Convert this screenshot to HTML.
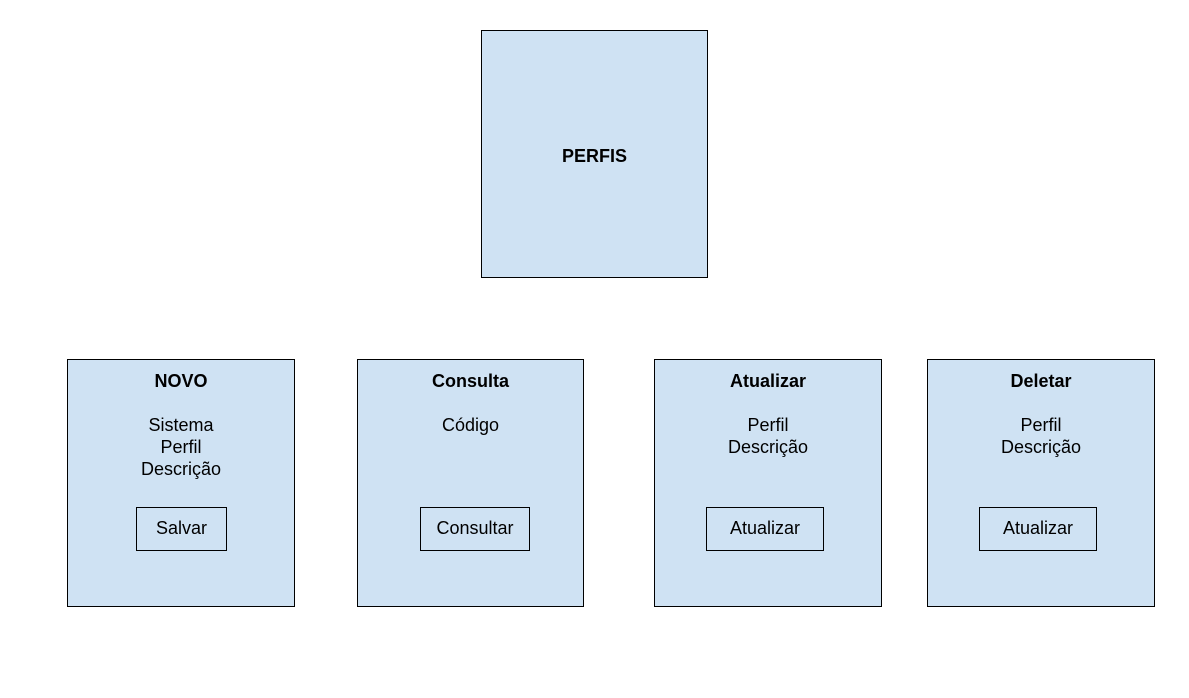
<!DOCTYPE html>
<html><head><meta charset="utf-8"><style>
body{margin:0;width:1189px;height:698px;background:#fff;position:relative;font-family:"Liberation Sans",Arial,sans-serif;color:#000;overflow:hidden}
.b{position:absolute;background:#cfe2f3;border:1px solid #000;box-sizing:border-box}
.t{position:absolute;left:0;right:0;text-align:center;font-size:18px;line-height:22px}
.btn{position:absolute;border:1px solid #000;box-sizing:border-box;text-align:center;font-size:18px;line-height:41px}
</style></head><body>
<div class="b" style="left:481px;top:30px;width:227px;height:248px"><div class="t" style="top:114px;font-weight:bold">PERFIS</div></div>

<div class="b" style="left:67px;top:359px;width:228px;height:248px">
<div class="t" style="top:10px;font-weight:bold">NOVO</div>
<div class="t" style="top:54px">Sistema<br>Perfil<br>Descrição</div>
<div class="btn" style="left:68px;top:147px;width:91px;height:44px">Salvar</div></div>

<div class="b" style="left:357px;top:359px;width:227px;height:248px">
<div class="t" style="top:10px;font-weight:bold">Consulta</div>
<div class="t" style="top:54px">Código</div>
<div class="btn" style="left:62px;top:147px;width:110px;height:44px">Consultar</div></div>

<div class="b" style="left:654px;top:359px;width:228px;height:248px">
<div class="t" style="top:10px;font-weight:bold">Atualizar</div>
<div class="t" style="top:54px">Perfil<br>Descrição</div>
<div class="btn" style="left:51px;top:147px;width:118px;height:44px">Atualizar</div></div>

<div class="b" style="left:927px;top:359px;width:228px;height:248px">
<div class="t" style="top:10px;font-weight:bold">Deletar</div>
<div class="t" style="top:54px">Perfil<br>Descrição</div>
<div class="btn" style="left:51px;top:147px;width:118px;height:44px">Atualizar</div></div>
</body></html>
